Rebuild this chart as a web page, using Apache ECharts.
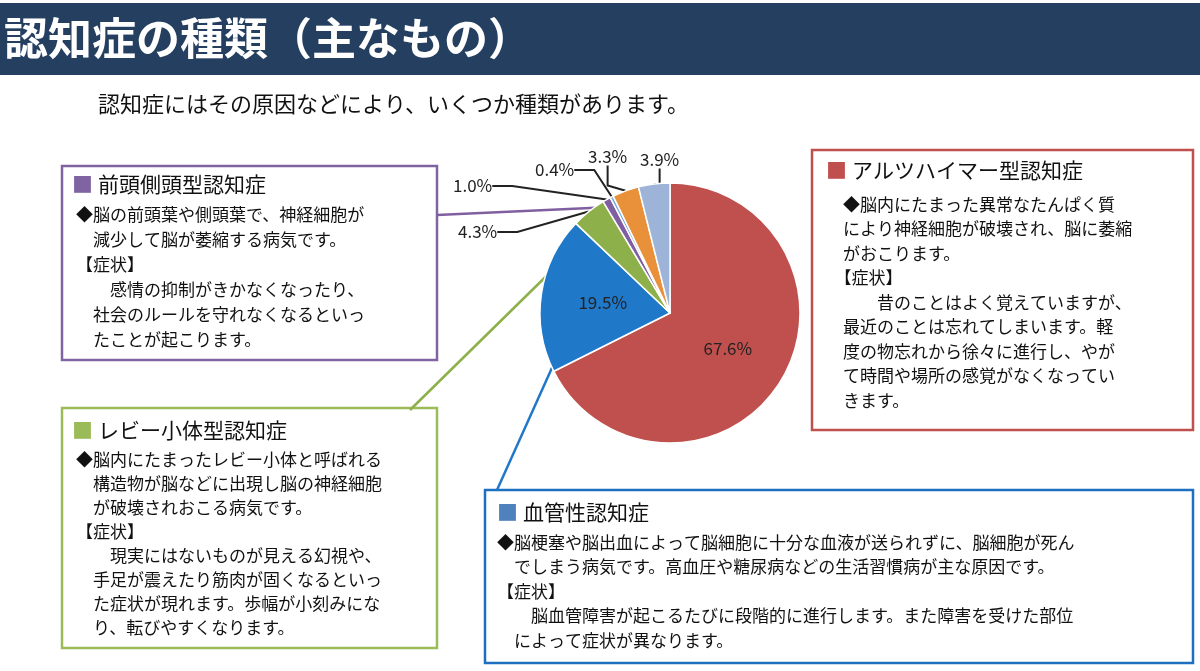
<!DOCTYPE html>
<html><head><meta charset="utf-8">
<script src="https://cdn.jsdelivr.net/npm/echarts@6/dist/echarts.min.js"></script>
<style>html,body{margin:0;padding:0;background:#fff}#main{width:1200px;height:671px}</style>
</head><body><div id="main"></div>
<script>
var names = ['アルツハイマー型認知症', '血管性認知症', 'レビー小体型認知症', '前頭側頭型認知症', 'その他A', 'その他B', 'その他C'];
var values = [67.6, 19.5, 4.3, 1.0, 0.4, 3.3, 3.9];
var colors = ['#c0504d', '#1f78c8', '#8db04a', '#7f5fa0', '#6fa8dc', '#e8913a', '#9db4d8'];
// where the small outside labels sit
var labelPos = { 2: [458, 232], 3: [453, 186], 4: [535, 170], 5: [588, 157], 6: [640, 160] };

var F = '"Noto Sans CJK JP", sans-serif';
var myChart = echarts.init(document.getElementById('main'), null, { renderer: 'canvas' });

function box(x, y, w, h, color) {
  return { type: 'rect', shape: { x: x, y: y, width: w, height: h }, style: { fill: '#fff', stroke: color, lineWidth: 2.5 }, z: 1 };
}
function txt(x, y, s, size, color, lh, weight) {
  return { type: 'text', x: x, y: y, style: { text: s, font: (weight || 'normal') + ' ' + size + 'px ' + F, fill: color || '#111', lineHeight: lh || 25 }, z: 3 };
}
function line(pts, color) {
  return { type: 'polyline', shape: { points: pts }, style: { stroke: color, lineWidth: 2.5 }, z: 2 };
}

var option = {
  graphic: [
    { type: 'rect', shape: { x: 0, y: 3, width: 1200, height: 72 }, style: { fill: '#243f60' } },
    txt(4, 12, '認知症の種類（主なもの）', 44, '#fff', 52, 'bold'),
    txt(98, 90, '認知症にはその原因などにより、いくつか種類があります。', 22, '#111', 28),
    line([[437, 215], [612, 207]], '#7f5fa0'),
    line([[410, 410], [578, 245]], '#8db04a'),
    line([[497, 490], [560, 350]], '#1f78c8'),
    box(62, 166, 375, 194, '#8064a2'),
    txt(72, 172, '■', 21, '#8064a2'),
    txt(98, 172, '前頭側頭型認知症', 21),
    txt(76, 202, '◆脳の前頭葉や側頭葉で、神経細胞が\n　減少して脳が萎縮する病気です。\n【症状】\n　　感情の抑制がきかなくなったり、\n　社会のルールを守れなくなるといっ\n　たことが起こります。', 17, '#111', 25),
    box(62, 408, 375, 240, '#9bbb59'),
    txt(72, 418, '■', 21, '#9bbb59'),
    txt(98, 418, 'レビー小体型認知症', 21),
    txt(76, 448, '◆脳内にたまったレビー小体と呼ばれる\n　構造物が脳などに出現し脳の神経細胞\n　が破壊されおこる病気です。\n【症状】\n　　現実にはないものが見える幻視や、\n　手足が震えたり筋肉が固くなるといっ\n　た症状が現れます。歩幅が小刻みにな\n　り、転びやすくなります。', 17, '#111', 24),
    box(812, 150, 381, 280, '#c0504d'),
    txt(826, 158, '■', 21, '#c0504d'),
    txt(852, 158, 'アルツハイマー型認知症', 21),
    txt(826, 192, '　◆脳内にたまった異常なたんぱく質\n　により神経細胞が破壊され、脳に萎縮\n　がおこります。\n　【症状】\n　　　昔のことはよく覚えていますが、\n　最近のことは忘れてしまいます。軽\n　度の物忘れから徐々に進行し、やが\n　て時間や場所の感覚がなくなってい\n　きます。', 17, '#111', 24.5),
    box(485, 490, 708, 173, '#1f6fc0'),
    txt(497, 500, '■', 21, '#4f81bd'),
    txt(523, 500, '血管性認知症', 21),
    txt(497, 530, '◆脳梗塞や脳出血によって脳細胞に十分な血液が送られずに、脳細胞が死ん\n　でしまう病気です。高血圧や糖尿病などの生活習慣病が主な原因です。\n【症状】\n　　脳血管障害が起こるたびに段階的に進行します。また障害を受けた部位\n　によって症状が異なります。', 17, '#111', 24.5)
  ],
  series: [{
    type: 'pie',
    center: [670, 313],
    radius: [0, 130],
    startAngle: 90,
    silent: true,
    itemStyle: { borderColor: '#fff', borderWidth: 1.5 },
    label: { show: true, position: 'outside', fontFamily: F, fontSize: 17, color: '#222',
      formatter: function (p) { return p.value.toFixed(1) + '%'; } },
    labelLine: { show: true, length: 14, length2: 20, lineStyle: { color: '#222', width: 2 } },
    labelLayout: function (p) {
      var pos = labelPos[p.dataIndex];
      if (!pos) return {};
      return { x: pos[0], y: pos[1], align: 'left', verticalAlign: 'middle' };
    },
    data: names.map(function (n, i) {
      var d = { name: n, value: values[i], itemStyle: { color: colors[i] } };
      if (i < 2) {
        d.label = { position: 'inside', fontSize: 17, color: '#222' };
        d.labelLine = { show: false };
      }
      return d;
    })
  }]
};
myChart.setOption(option);
window.addEventListener('resize', myChart.resize);
</script>
</body></html>
